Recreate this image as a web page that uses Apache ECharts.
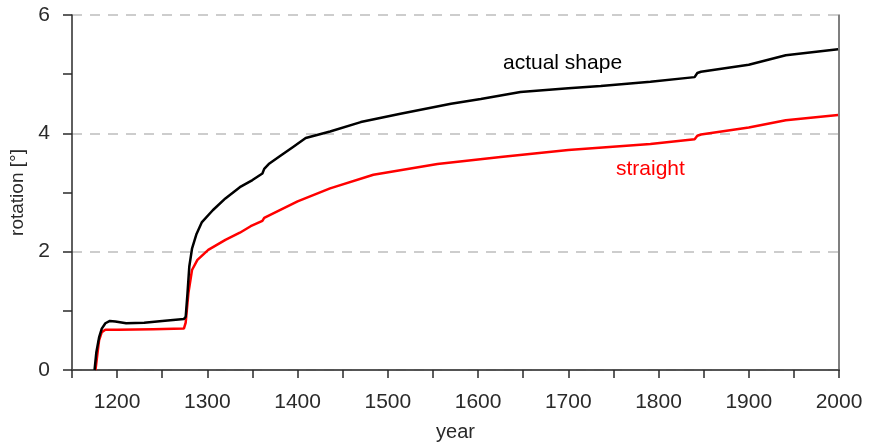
<!DOCTYPE html>
<html>
<head>
<meta charset="utf-8">
<script src="https://cdn.jsdelivr.net/npm/echarts@6/dist/echarts.min.js"></script>
<style>
  html, body { margin: 0; padding: 0; background: #fff; }
  #chart { width: 869px; height: 442px; }
</style>
</head>
<body>
<div id="chart"></div>
<script>
// year / rotation pairs
const actualYears = [1175, 1177, 1180, 1183, 1187, 1192, 1198, 1210, 1230, 1250, 1274, 1276, 1278, 1280, 1283, 1288, 1294, 1306, 1320, 1336, 1350, 1361, 1363, 1368, 1381, 1395, 1409, 1436, 1470, 1514, 1570, 1603, 1647, 1700, 1736, 1791, 1840, 1843, 1847, 1900, 1941, 1999]
const actualValues = [0, 0.3, 0.55, 0.7, 0.79, 0.83, 0.82, 0.79, 0.8, 0.83, 0.86, 0.9, 1.3, 1.75, 2.05, 2.3, 2.5, 2.7, 2.9, 3.09, 3.21, 3.32, 3.4, 3.48, 3.62, 3.77, 3.92, 4.03, 4.19, 4.33, 4.5, 4.58, 4.7, 4.76, 4.8, 4.87, 4.95, 5.02, 5.04, 5.16, 5.32, 5.42]

const straightYears = [1176, 1178, 1180, 1183, 1187, 1200, 1240, 1274, 1276, 1279, 1283, 1289, 1301, 1320, 1336, 1348, 1361, 1363, 1368, 1400, 1436, 1484, 1555, 1625, 1700, 1791, 1840, 1843, 1847, 1900, 1941, 1999]
const straightValues = [0, 0.25, 0.5, 0.64, 0.68, 0.68, 0.69, 0.7, 0.8, 1.3, 1.69, 1.86, 2.03, 2.2, 2.32, 2.43, 2.52, 2.57, 2.61, 2.85, 3.07, 3.3, 3.48, 3.6, 3.72, 3.82, 3.9, 3.96, 3.98, 4.1, 4.22, 4.31]

const axisColor = '#2a2a2a'
const font = 'Liberation Sans, Arial, sans-serif'

const chart = echarts.init(document.getElementById('chart'))
chart.setOption({
  animation: false,
  grid: { left: 72, right: 30, top: 15, bottom: 72, outerBoundsMode: 'none', containLabel: false },
  xAxis: [
    {
      type: 'value', min: 1150, max: 2000, interval: 50,
      name: 'year', nameLocation: 'middle', nameGap: 52,
      nameTextStyle: { color: axisColor, fontSize: 20, fontFamily: font },
      axisLine: { lineStyle: { color: axisColor, width: 1.5 } },
      axisTick: { length: 8, lineStyle: { color: axisColor, width: 1.5 } },
      axisLabel: {
        color: axisColor, fontSize: 21, fontFamily: font, margin: 22,
        formatter: v => (v % 100 === 0 && v > 1150) ? String(v) : ''
      },
      splitLine: { show: false }
    },
    {
      type: 'value', position: 'top', min: 1150, max: 2000,
      axisLine: { show: true, lineStyle: { color: '#555', width: 1.5 } },
      axisTick: { show: false }, axisLabel: { show: false }, splitLine: { show: false }
    }
  ],
  yAxis: [
    {
      type: 'value', min: 0, max: 6, interval: 1,
      name: 'rotation [°]', nameLocation: 'middle', nameGap: 42,
      nameTextStyle: { color: axisColor, fontSize: 19, fontFamily: font },
      axisLine: { show: true, lineStyle: { color: axisColor, width: 1.5 } },
      axisTick: { show: true, length: 9, lineStyle: { color: axisColor, width: 1.5 } },
      axisLabel: {
        color: axisColor, fontSize: 21, fontFamily: font, margin: 22,
        formatter: v => v % 2 === 0 ? String(v) : ''
      },
      splitLine: { show: false }
    },
    {
      type: 'value', position: 'right', min: 0, max: 6, interval: 2,
      axisLine: { show: true, lineStyle: { color: '#555', width: 1.5 } },
      axisTick: { show: false }, axisLabel: { show: false },
      splitLine: { show: true, lineStyle: { color: '#bdbdbd', type: [10, 8], width: 1.5 } }
    }
  ],
  graphic: [
    { type: 'text', left: 503, top: 53, style: { text: 'actual shape', fill: '#000', font: '21px ' + font } },
    { type: 'text', left: 616, top: 159, style: { text: 'straight', fill: '#ff0000', font: '21px ' + font } }
  ],
  series: [
    {
      name: 'straight', type: 'line', showSymbol: false, z: 3,
      data: straightYears.map((y, i) => [y, straightValues[i]]),
      lineStyle: { color: '#ff0000', width: 2.5 }
    },
    {
      name: 'actual shape', type: 'line', showSymbol: false, z: 4,
      data: actualYears.map((y, i) => [y, actualValues[i]]),
      lineStyle: { color: '#000', width: 2.5 }
    }
  ]
})
</script>
</body>
</html>
